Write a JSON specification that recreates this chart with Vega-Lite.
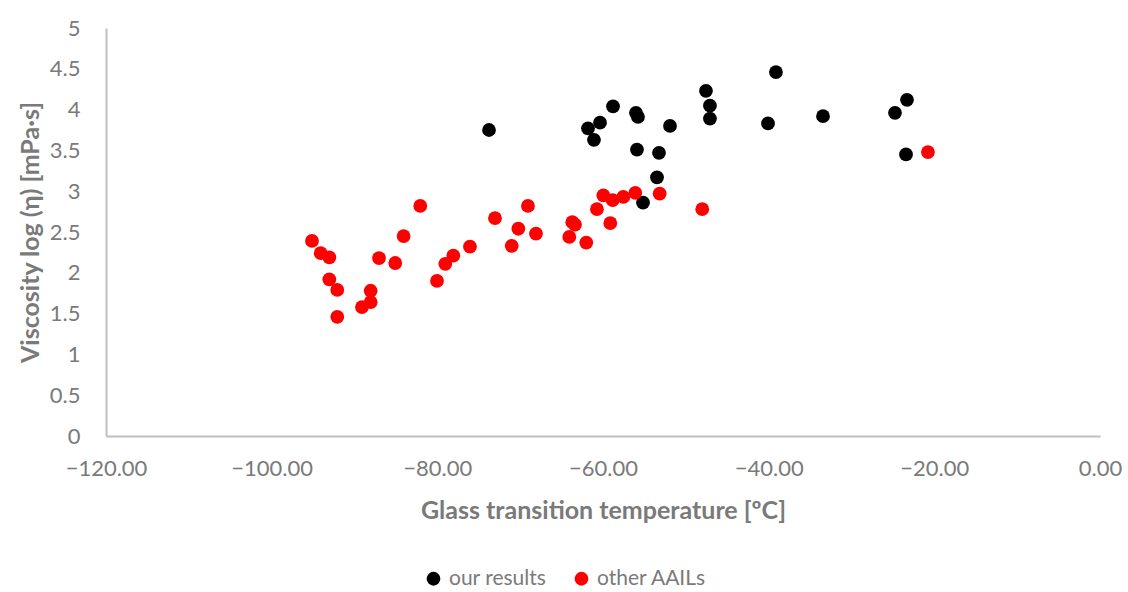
{
  "$schema": "https://vega.github.io/schema/vega-lite/v6.json",
  "width": 994,
  "height": 408,
  "autosize": {"type": "none"},
  "padding": {"left": 106, "top": 28, "right": 28, "bottom": 156},
  "background": "white",
  "config": {
    "view": {"stroke": null},
    "font": "Lato"
  },
  "data": {
    "values": [
      {"group": "our results", "tg": -73.76, "visc": 3.75},
      {"group": "our results", "tg": -61.81, "visc": 3.77},
      {"group": "our results", "tg": -60.36, "visc": 3.84},
      {"group": "our results", "tg": -61.09, "visc": 3.63},
      {"group": "our results", "tg": -58.79, "visc": 4.04},
      {"group": "our results", "tg": -56.02, "visc": 3.96},
      {"group": "our results", "tg": -55.78, "visc": 3.91},
      {"group": "our results", "tg": -55.90, "visc": 3.51},
      {"group": "our results", "tg": -53.24, "visc": 3.47},
      {"group": "our results", "tg": -51.91, "visc": 3.80},
      {"group": "our results", "tg": -53.48, "visc": 3.17},
      {"group": "our results", "tg": -55.17, "visc": 2.86},
      {"group": "our results", "tg": -47.57, "visc": 4.23},
      {"group": "our results", "tg": -47.09, "visc": 4.05},
      {"group": "our results", "tg": -47.09, "visc": 3.89},
      {"group": "our results", "tg": -39.12, "visc": 4.46},
      {"group": "our results", "tg": -40.08, "visc": 3.83},
      {"group": "our results", "tg": -33.44, "visc": 3.92},
      {"group": "our results", "tg": -24.75, "visc": 3.96},
      {"group": "our results", "tg": -23.30, "visc": 4.12},
      {"group": "our results", "tg": -23.42, "visc": 3.45},
      {"group": "other AAILs", "tg": -95.13, "visc": 2.39},
      {"group": "other AAILs", "tg": -94.08, "visc": 2.24},
      {"group": "other AAILs", "tg": -93.04, "visc": 2.19},
      {"group": "other AAILs", "tg": -93.04, "visc": 1.92},
      {"group": "other AAILs", "tg": -92.08, "visc": 1.79},
      {"group": "other AAILs", "tg": -92.08, "visc": 1.46},
      {"group": "other AAILs", "tg": -89.10, "visc": 1.58},
      {"group": "other AAILs", "tg": -88.05, "visc": 1.78},
      {"group": "other AAILs", "tg": -88.05, "visc": 1.64},
      {"group": "other AAILs", "tg": -87.04, "visc": 2.18},
      {"group": "other AAILs", "tg": -85.08, "visc": 2.12},
      {"group": "other AAILs", "tg": -84.07, "visc": 2.45},
      {"group": "other AAILs", "tg": -82.06, "visc": 2.82},
      {"group": "other AAILs", "tg": -80.04, "visc": 1.90},
      {"group": "other AAILs", "tg": -79.04, "visc": 2.11},
      {"group": "other AAILs", "tg": -78.07, "visc": 2.21},
      {"group": "other AAILs", "tg": -76.06, "visc": 2.32},
      {"group": "other AAILs", "tg": -73.04, "visc": 2.67},
      {"group": "other AAILs", "tg": -71.02, "visc": 2.33},
      {"group": "other AAILs", "tg": -70.22, "visc": 2.54},
      {"group": "other AAILs", "tg": -69.06, "visc": 2.82},
      {"group": "other AAILs", "tg": -68.09, "visc": 2.48},
      {"group": "other AAILs", "tg": -63.71, "visc": 2.62},
      {"group": "other AAILs", "tg": -63.38, "visc": 2.59},
      {"group": "other AAILs", "tg": -64.07, "visc": 2.44},
      {"group": "other AAILs", "tg": -62.02, "visc": 2.37},
      {"group": "other AAILs", "tg": -60.73, "visc": 2.78},
      {"group": "other AAILs", "tg": -59.96, "visc": 2.95},
      {"group": "other AAILs", "tg": -58.83, "visc": 2.89},
      {"group": "other AAILs", "tg": -59.12, "visc": 2.61},
      {"group": "other AAILs", "tg": -57.55, "visc": 2.93},
      {"group": "other AAILs", "tg": -56.10, "visc": 2.98},
      {"group": "other AAILs", "tg": -53.16, "visc": 2.97},
      {"group": "other AAILs", "tg": -48.02, "visc": 2.78},
      {"group": "other AAILs", "tg": -20.77, "visc": 3.48}
    ]
  },
  "mark": {"type": "circle", "size": 190, "opacity": 1},
  "encoding": {
    "x": {
      "field": "tg",
      "type": "quantitative",
      "scale": {"domain": [-120, 0], "nice": false, "zero": false},
      "axis": {
        "title": "Glass transition temperature [ºC]",
        "values": [-120, -100, -80, -60, -40, -20, 0],
        "format": ".2f",
        "grid": false,
        "ticks": false,
        "domainColor": "#BFBFBF",
        "domainWidth": 2,
        "labelFont": "Lato",
        "labelFontSize": 22,
        "labelColor": "#7a7a7a",
        "labelPadding": 22,
        "labelFlush": false,
        "labelOverlap": false,
        "titleFont": "Lato",
        "titleFontSize": 25,
        "titleFontWeight": "bold",
        "titleColor": "#7a7a7a",
        "titlePadding": 19
      }
    },
    "y": {
      "field": "visc",
      "type": "quantitative",
      "scale": {"domain": [0, 5], "nice": false},
      "axis": {
        "title": "Viscosity log (η) [mPa·s]",
        "values": [0, 0.5, 1, 1.5, 2, 2.5, 3, 3.5, 4, 4.5, 5],
        "format": "~g",
        "grid": false,
        "ticks": false,
        "domainColor": "#BFBFBF",
        "domainWidth": 2,
        "labelFont": "Lato",
        "labelFontSize": 22,
        "labelColor": "#7a7a7a",
        "labelPadding": 26,
        "labelFlush": false,
        "labelOverlap": false,
        "titleFont": "Lato",
        "titleFontSize": 25,
        "titleFontWeight": "bold",
        "titleColor": "#7a7a7a",
        "titlePadding": 6
      }
    },
    "color": {
      "field": "group",
      "type": "nominal",
      "scale": {"domain": ["our results", "other AAILs"], "range": ["#000000", "#ff0000"]},
      "legend": {
        "title": null,
        "orient": "none",
        "direction": "horizontal",
        "legendX": 317,
        "legendY": 540,
        "symbolType": "circle",
        "symbolSize": 190,
        "symbolStrokeWidth": 0,
        "labelFont": "Lato",
        "labelFontSize": 21,
        "labelColor": "#7a7a7a",
        "labelOffset": 5,
        "columnPadding": 24
      }
    }
  }
}
